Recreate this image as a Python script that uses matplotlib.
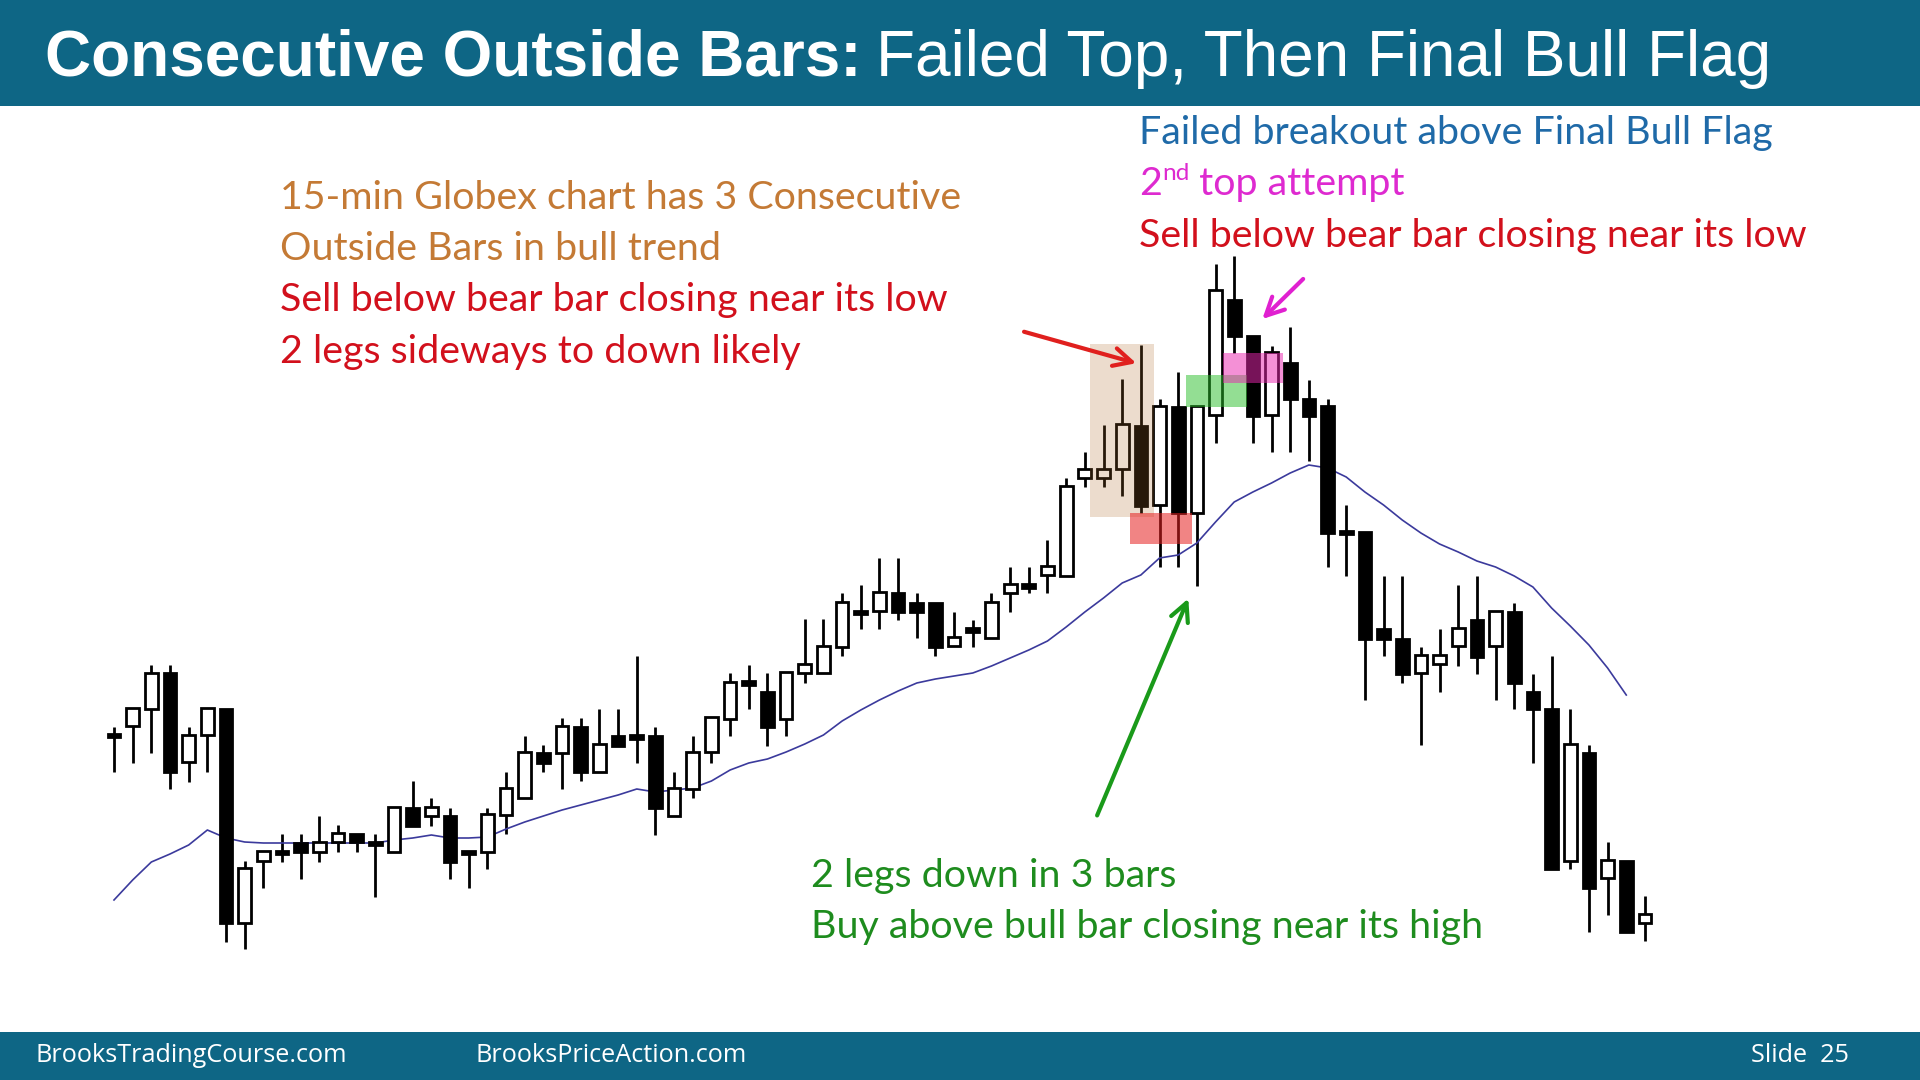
import matplotlib
matplotlib.use("Agg")
import matplotlib.pyplot as plt
from matplotlib.patches import Rectangle
import numpy as np

# 15-min bars, prices in chart points
opens = [265, 274, 291, 327, 238, 265, 291, 77, 139, 149, 157, 148, 158, 166, 158, 148,
         192, 184, 184, 149, 148, 185, 202, 247, 247, 273, 228, 264, 265, 264, 184, 211,
         248, 281, 319, 308, 281, 327, 327, 353, 389, 389, 407, 397, 397, 354, 372, 362,
         407, 416, 425, 424, 522, 522, 531, 574, 495, 593, 487, 585, 700, 664, 585, 637,
         601, 594, 469, 468, 371, 361, 327, 336, 354, 380, 354, 388, 308, 291, 139, 247,
         122, 139, 77]
highs = [273, 292, 335, 335, 273, 292, 291, 139, 149, 166, 166, 184, 175, 166, 166, 193,
         219, 202, 192, 149, 192, 228, 264, 255, 282, 282, 291, 291, 344, 273, 228, 264,
         283, 327, 335, 327, 328, 381, 381, 407, 415, 442, 442, 407, 397, 388, 380, 407,
         433, 433, 460, 522, 548, 575, 621, 655, 601, 628, 594, 736, 744, 664, 654, 673,
         620, 601, 495, 468, 424, 424, 353, 371, 415, 424, 389, 397, 326, 344, 291, 255,
         158, 139, 104]
lows = [228, 237, 247, 211, 218, 228, 58, 51, 112, 138, 121, 138, 148, 148, 103, 148,
        174, 174, 121, 112, 131, 166, 202, 228, 211, 219, 228, 254, 237, 165, 184, 202,
        237, 264, 291, 254, 264, 317, 327, 344, 371, 371, 380, 362, 344, 354, 353, 362,
        388, 407, 407, 424, 513, 513, 504, 487, 433, 433, 414, 557, 647, 557, 548, 548,
        539, 433, 424, 300, 344, 317, 255, 308, 334, 326, 300, 291, 237, 131, 131, 68,
        85, 68, 59]
closes = [263, 292, 327, 228, 265, 292, 77, 132, 149, 146, 148, 158, 167, 158, 155, 193,
          174, 193, 138, 146, 186, 212, 248, 237, 274, 228, 256, 254, 261, 192, 212, 248,
          283, 318, 315, 273, 328, 336, 354, 398, 386, 408, 388, 388, 353, 363, 368, 398,
          416, 412, 434, 514, 531, 531, 576, 494, 594, 487, 594, 710, 664, 584, 648, 601,
          584, 467, 466, 361, 361, 326, 345, 345, 372, 343, 389, 317, 291, 131, 256, 112,
          140, 68, 86]
# 20-bar EMA as drawn on the slide (ends one bar early)
ema = [100, 120, 138, 146, 155, 170, 162, 158, 157, 157, 157, 157, 157, 157, 157, 160,
       162, 165, 162, 162, 163, 171, 178, 184, 190, 195, 200, 205, 211, 208, 210, 212,
       219, 230, 237, 241, 248, 256, 265, 279, 290, 300, 309, 317, 321, 324, 327, 334,
       342, 350, 359, 373, 388, 402, 417, 425, 442, 445, 457, 478, 498, 508, 517, 527,
       535, 532, 523, 508, 495, 480, 467, 456, 448, 439, 433, 424, 413, 392, 374, 355,
       332, 305]

# highlight zones: (first bar, last bar, low, high)
zone_tan = (53, 55, 483, 656)
zone_red = (55, 57, 456, 487)
zone_green = (58, 60, 593, 625)
zone_pink = (60, 62, 617, 647)

TEAL = "#0e6685"
W, H = 1920, 1080
fig = plt.figure(figsize=(19.2, 10.8), dpi=100)
fig.patch.set_facecolor("white")
r = fig.canvas.get_renderer()

step = 18.67
x0 = 114
ax = fig.add_axes([0, 0, 1, 1])
ax.set_xlim(-x0 / step, (W - x0) / step)
ax.set_ylim(-80, 1000)
ax.axis("off")

n = len(opens)
for i in range(n):
    o, h, l, c = opens[i], highs[i], lows[i], closes[i]
    ax.vlines(i, l, h, color="black", lw=2.0, zorder=2)
    bot = min(o, c)
    ht = max(abs(c - o), 3)
    ax.add_patch(Rectangle((i - 0.34, bot), 0.68, ht,
                           facecolor="white" if c > o else "black",
                           edgecolor="black", lw=2.0, zorder=3))

ax.plot(np.arange(len(ema)), ema, color="#3b3a9c", lw=1.2, zorder=2.5)

def zone(z, color, alpha, pad_l=0.7, pad_r=0.7):
    a, b, lo, hi = z
    ax.add_patch(Rectangle((a - pad_l, lo), b - a + pad_l + pad_r, hi - lo,
                           facecolor=color, edgecolor="none", alpha=alpha, zorder=4))

zone(zone_tan, (0.68, 0.42, 0.17), 0.23, 0.72, 0.7)
zone(zone_red, (0.9, 0.12, 0.12), 0.55, 0.6, 0.75)
zone(zone_green, (0.16, 0.75, 0.16), 0.5, 0.58, 0.7)
zone(zone_pink, (0.92, 0.15, 0.69), 0.51, 0.6, 0.6)

def arrow(x1, y1, x2, y2, color):
    ax.annotate("", xy=(x2, y2), xytext=(x1, y1),
                arrowprops=dict(arrowstyle="->,head_length=1.3,head_width=0.65",
                                color=color, lw=3), zorder=6)

arrow(48.6, 669, 54.9, 636, "#e0201e")
arrow(63.8, 723, 61.4, 679, "#e020d0")
arrow(52.6, 182, 57.6, 404, "#1a9a1a")

# banners
fig.add_artist(Rectangle((0, 1 - 106 / H), 1, 106 / H, transform=fig.transFigure,
                         facecolor=TEAL, edgecolor="none", zorder=10))
fig.add_artist(Rectangle((0, 0), 1, 48 / H, transform=fig.transFigure,
                         facecolor=TEAL, edgecolor="none", zorder=10))

def fit(s, target_w, **kw):
    t = fig.text(0, 0, s, fontsize=20, **kw)
    w = t.get_window_extent(r).width
    t.remove()
    return 20 * target_w / w

def put(x, y, s, size, color, **kw):
    t = fig.text(x / W, 1 - y / H, s, fontsize=size, color=color,
                 ha="left", va="center", zorder=11, **kw)
    return t.get_window_extent(r)

def put_seq(x, y, parts, color):
    # parts: (text, size, dy)
    for s, size, dy in parts:
        bb = put(x, y + dy, s, size, color, family="Lato")
        x = bb.x1

# title
tsz = fit("Consecutive Outside Bars:", 816, family="Liberation Sans", weight="bold")
bb = put(45, 59, "Consecutive Outside Bars:", tsz, "white",
         family="Liberation Sans", weight="bold")
put(bb.x1 + 14, 59, "Failed Top, Then Final Bull Flag", tsz, "white",
    family="Liberation Sans")

# annotations
fs = fit("Sell below bear bar closing near its low", 671, family="Lato")
ORANGE = "#c47a35"
RED = "#d2101c"
BLUE = "#1f6aa8"
MAG = "#de2ad0"
GREEN = "#1e8c1e"

put(280, 198, "15-min Globex chart has 3 Consecutive", fs, ORANGE, family="Lato")
put(280, 249, "Outside Bars in bull trend", fs, ORANGE, family="Lato")
put(280, 300, "Sell below bear bar closing near its low", fs, RED, family="Lato")
put(280, 352, "2 legs sideways to down likely", fs, RED, family="Lato")

put(1139, 133, "Failed breakout above Final Bull Flag", fs, BLUE, family="Lato")
put_seq(1139, 184, [("2", fs, 0), ("nd", fs * 0.62, -10), (" top attempt", fs, 0)], MAG)
put(1139, 236, "Sell below bear bar closing near its low", fs, RED, family="Lato")

put(811, 876, "2 legs down in 3 bars", fs, GREEN, family="Lato")
put(811, 927, "Buy above bull bar closing near its high", fs, GREEN, family="Lato")

# footer
ffs = fit("BrooksTradingCourse.com", 311, family="Open Sans")
put(36, 1055, "BrooksTradingCourse.com", ffs, "white", family="Open Sans")
put(475, 1055, "BrooksPriceAction.com", ffs, "white", family="Open Sans")
put(1751, 1055, "Slide  25", ffs, "white", family="Open Sans")

fig.savefig("out.png", dpi=100)
